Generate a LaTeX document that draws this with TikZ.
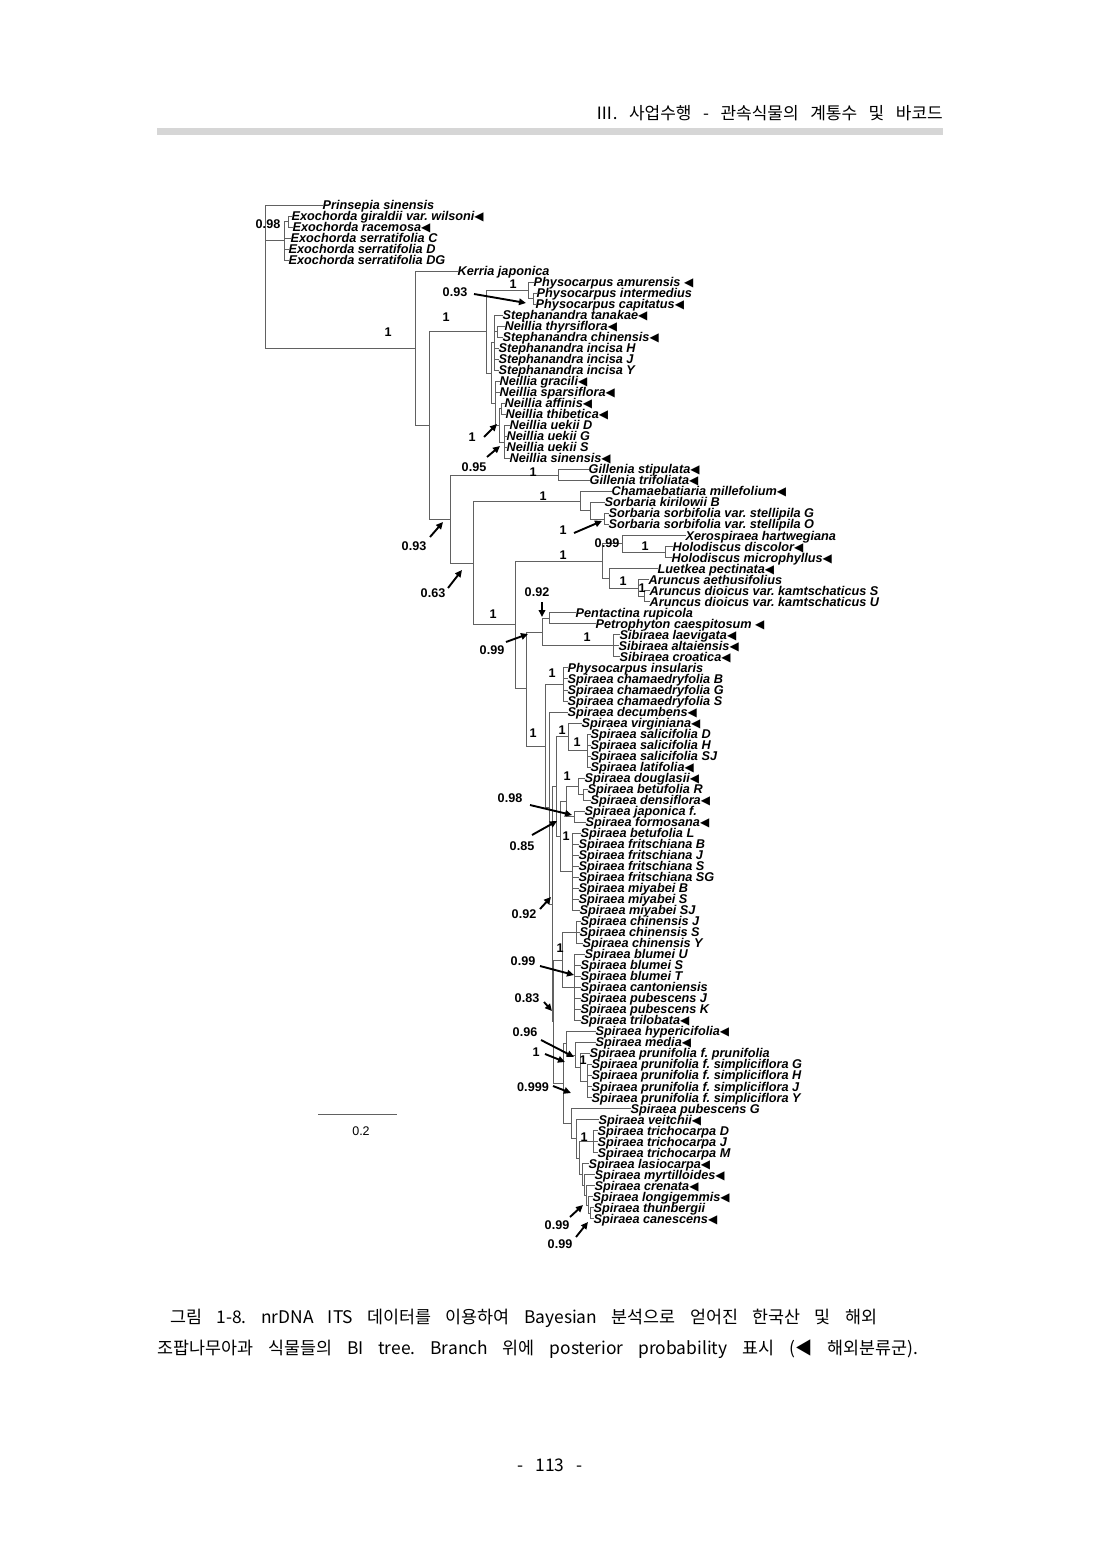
\documentclass[tikz,border=0pt]{standalone}
\usepackage{fontspec}
\setmainfont{Liberation Sans}
\newfontfamily\kr[WordSpace=2.2]{Noto Sans CJK KR}
\newfontfamily\dvs{DejaVu Sans}
\usetikzlibrary{arrows.meta}
\frenchspacing
\def\yy#1{205+11.02*#1}
\newcommand\tri{{\dvs\upshape\mdseries\fontsize{12}{12}\selectfont ◀}}
\newcommand\lf[4]{\node[leaf] (l#1) at (#2,\yy{#1}) {#3}; \draw[br] (#4) |- (l#1.west);}
\newcommand\cl[4]{\coordinate (#1) at (#2,\yy{#3}); \draw[br] (#4) |- (#1);}
\newcommand\pp[4]{\node[sup] (#1) at (#2,#3) {#4};}
\newcommand\aw[5]{\coordinate (#1s) at (#2,#3); \coordinate (#1e) at (#4,#5); \draw[arr] (#1s) -- (#1e);}
\begin{document}
\begin{tikzpicture}[x=1pt,y=-1pt,
  leaf/.style={anchor=west,inner sep=0pt,xshift=1.5pt,text height=8.8pt,text depth=0pt,
    font=\fontsize{12.7}{13}\selectfont\bfseries\itshape},
  br/.style={line width=0.75pt,draw=black!62},
  sup/.style={inner sep=0pt,text height=8.8pt,text depth=0pt,font=\fontsize{12.6}{13}\selectfont\bfseries},
  arr/.style={line width=1.9pt,-{Triangle[length=7pt,width=6.5pt]}},
  kr/.style={inner sep=0pt,font=\kr\fontsize{17.4}{19}\selectfont}]
\fill[white] (0,0) rectangle (1100,1554);
\useasboundingbox (0,0) rectangle (1100,1554);
% header
\node[kr,anchor=east,font=\kr\fontsize{17}{19}\selectfont] (hdr) at (943,113) {\makebox[347pt][s]{Ⅲ. 사업수행 - 관속식물의 계통수 및 바코드}};
\fill[black!16] (157,128) rectangle (943,135);
% tree internal nodes
\coordinate (root) at (265,\yy{6.5});
\cl{Ex}{284}{3.25}{root}
\cl{GR}{288}{1.5}{Ex}
\cl{A}{415}{13}{root}
\cl{B}{429}{20}{A}
\cl{C}{486}{11.5}{B}
\cl{Ph}{528}{7.75}{C}
\cl{IC}{533}{8.5}{Ph}
\cl{SN}{491}{15.25}{C}
\cl{SN1}{494}{12.5}{SN}
\cl{TC2}{497}{11.5}{SN1}
\cl{SN2}{495}{18}{SN}
\cl{NB}{499}{20}{SN2}
\cl{NA1}{501}{18.5}{NB}
\cl{NU}{504}{21.5}{NB}
\cl{D}{450}{28.5}{B}
\cl{Gil}{558}{24.5}{D}
\cl{E}{473}{32.5}{D}
\cl{CS}{580}{26.875}{E}
\cl{SO}{590}{27.75}{CS}
\cl{GO}{604}{28.5}{SO}
\cl{F}{515}{38.1}{E}
\cl{G}{602}{32.31}{F}
\cl{XH}{622}{30.75}{G}
\cl{Ho}{665}{31.5}{XH}
\cl{LA}{609}{33.875}{G}
\cl{Ar}{638}{34.75}{LA}
\cl{AD}{644}{35.5}{Ar}
\cl{R}{526}{43.9}{F}
\cl{Q}{542}{38.75}{R}
\cl{P}{549}{37.5}{Q}
\cl{Sib}{613}{40}{Q}
\cl{S}{545}{49.1}{R}
\cl{PC}{563}{43.5}{S}
\cl{T}{549}{54.7}{S}
\cl{T2}{552}{63.45}{T}
\cl{T3}{556}{52.8}{T2}
\cl{V}{568}{48.25}{T3}
\cl{Sal}{587}{49.5}{V}
\cl{T3b}{560}{57.3}{T3}
\cl{DGJF}{566}{54.125}{T3b}
\cl{DG}{578}{52.75}{DGJF}
\cl{BD}{583}{53.5}{DG}
\cl{JF}{574}{55.5}{DGJF}
\cl{G1}{572}{60.5}{T3b}
\cl{T4}{553}{74.1}{T2}
\cl{CB}{562}{68.5}{T4}
\cl{G2}{576}{66}{CB}
\cl{G3}{574}{71}{CB}
\cl{HL}{563}{79.7}{T4}
\cl{H}{566}{76.06}{HL}
\cl{M}{575}{77.125}{H}
\cl{PP}{580}{78.25}{M}
\cl{PS}{587}{79.5}{PP}
\cl{L}{571}{83.37}{HL}
\cl{L2}{576}{84.74}{L}
\cl{L3}{579}{86.49}{L2}
\cl{Tr}{593}{85}{L3}
\cl{L4}{582}{87.97}{L3}
\cl{L5}{584}{88.94}{L4}
\cl{L6}{586}{89.875}{L5}
\cl{L7}{588}{90.75}{L6}
\cl{L8}{590}{91.5}{L7}
% leaves
\lf{0}{321}{Prinsepia sinensis}{root}
\lf{1}{290}{Exochorda giraldii var. wilsoni\tri}{GR}
\lf{2}{291}{Exochorda racemosa\tri}{GR}
\lf{3}{289}{Exochorda serratifolia C}{Ex}
\lf{4}{287}{Exochorda serratifolia D}{Ex}
\lf{5}{287}{Exochorda serratifolia DG}{Ex}
\lf{6}{456}{Kerria japonica}{A}
\lf{7}{532}{Physocarpus amurensis \tri}{Ph}
\lf{8}{535}{Physocarpus intermedius}{IC}
\lf{9}{534}{Physocarpus capitatus\tri}{IC}
\lf{10}{501}{Stephanandra tanakae\tri}{SN1}
\lf{11}{503}{Neillia thyrsiflora\tri}{TC2}
\lf{12}{501}{Stephanandra chinensis\tri}{TC2}
\lf{13}{497}{Stephanandra incisa H}{SN1}
\lf{14}{497}{Stephanandra incisa J}{SN1}
\lf{15}{497}{Stephanandra incisa Y}{SN1}
\lf{16}{498}{Neillia gracili\tri}{SN2}
\lf{17}{498}{Neillia sparsiflora\tri}{SN2}
\lf{18}{503}{Neillia affinis\tri}{NA1}
\lf{19}{504}{Neillia thibetica\tri}{NA1}
\lf{20}{508}{Neillia uekii D}{NU}
\lf{21}{505}{Neillia uekii G}{NU}
\lf{22}{505}{Neillia uekii S}{NU}
\lf{23}{508}{Neillia sinensis\tri}{NU}
\lf{24}{587}{Gillenia stipulata\tri}{Gil}
\lf{25}{588}{Gillenia trifoliata\tri}{Gil}
\lf{26}{610}{Chamaebatiaria millefolium\tri}{CS}
\lf{27}{603}{Sorbaria kirilowii B}{SO}
\lf{28}{607}{Sorbaria sorbifolia var. stellipila G}{GO}
\lf{29}{607}{Sorbaria sorbifolia var. stellipila O}{GO}
\lf{30}{684}{Xerospiraea hartwegiana}{XH}
\lf{31}{671}{Holodiscus discolor\tri}{Ho}
\lf{32}{670}{Holodiscus microphyllus\tri}{Ho}
\lf{33}{656}{Luetkea pectinata\tri}{LA}
\lf{34}{647}{Aruncus aethusifolius}{Ar}
\lf{35}{648}{Aruncus dioicus var. kamtschaticus S}{AD}
\lf{36}{648}{Aruncus dioicus var. kamtschaticus U}{AD}
\lf{37}{574}{Pentactina rupicola}{P}
\lf{38}{594}{Petrophyton caespitosum \tri}{P}
\lf{39}{618}{Sibiraea laevigata\tri}{Sib}
\lf{40}{617}{Sibiraea altaiensis\tri}{Sib}
\lf{41}{618}{Sibiraea croatica\tri}{Sib}
\lf{42}{566}{Physocarpus insularis}{PC}
\lf{43}{566}{Spiraea chamaedryfolia B}{PC}
\lf{44}{566}{Spiraea chamaedryfolia G}{PC}
\lf{45}{566}{Spiraea chamaedryfolia S}{PC}
\lf{46}{566}{Spiraea decumbens\tri}{T}
\lf{47}{580}{Spiraea virginiana\tri}{V}
\lf{48}{589}{Spiraea salicifolia D}{Sal}
\lf{49}{589}{Spiraea salicifolia H}{Sal}
\lf{50}{589}{Spiraea salicifolia SJ}{Sal}
\lf{51}{589}{Spiraea latifolia\tri}{Sal}
\lf{52}{583}{Spiraea douglasii\tri}{DG}
\lf{53}{586}{Spiraea betufolia R}{BD}
\lf{54}{589}{Spiraea densiflora\tri}{BD}
\lf{55}{583}{Spiraea japonica f.}{JF}
\lf{56}{584}{Spiraea formosana\tri}{JF}
\lf{57}{579}{Spiraea betufolia L}{G1}
\lf{58}{577}{Spiraea fritschiana B}{G1}
\lf{59}{577}{Spiraea fritschiana J}{G1}
\lf{60}{577}{Spiraea fritschiana S}{G1}
\lf{61}{577}{Spiraea fritschiana SG}{G1}
\lf{62}{577}{Spiraea miyabei B}{G1}
\lf{63}{577}{Spiraea miyabei S}{G1}
\lf{64}{578}{Spiraea miyabei SJ}{G1}
\lf{65}{579}{Spiraea chinensis J}{G2}
\lf{66}{578}{Spiraea chinensis S}{G2}
\lf{67}{581}{Spiraea chinensis Y}{G2}
\lf{68}{583}{Spiraea blumei U}{G3}
\lf{69}{579}{Spiraea blumei S}{G3}
\lf{70}{579}{Spiraea blumei T}{G3}
\lf{71}{579}{Spiraea cantoniensis}{G3}
\lf{72}{579}{Spiraea pubescens J}{G3}
\lf{73}{579}{Spiraea pubescens K}{G3}
\lf{74}{579}{Spiraea trilobata\tri}{G3}
\lf{75}{594}{Spiraea hypericifolia\tri}{H}
\lf{76}{594}{Spiraea media\tri}{M}
\lf{77}{588}{Spiraea prunifolia f. prunifolia}{PP}
\lf{78}{590}{Spiraea prunifolia f. simpliciflora G}{PS}
\lf{79}{590}{Spiraea prunifolia f. simpliciflora H}{PS}
\lf{80}{590}{Spiraea prunifolia f. simpliciflora J}{PS}
\lf{81}{590}{Spiraea prunifolia f. simpliciflora Y}{PS}
\lf{82}{629}{Spiraea pubescens G}{L}
\lf{83}{597}{Spiraea veitchii\tri}{L2}
\lf{84}{596}{Spiraea trichocarpa D}{Tr}
\lf{85}{596}{Spiraea trichocarpa J}{Tr}
\lf{86}{596}{Spiraea trichocarpa M}{Tr}
\lf{87}{587}{Spiraea lasiocarpa\tri}{L4}
\lf{88}{593}{Spiraea myrtilloides\tri}{L5}
\lf{89}{593}{Spiraea crenata\tri}{L6}
\lf{90}{591}{Spiraea longigemmis\tri}{L7}
\lf{91}{592}{Spiraea thunbergii}{L8}
\lf{92}{592}{Spiraea canescens\tri}{L8}
% support values
\pp{s1}{268}{224}{0.98}
\pp{s2}{388}{332}{1}
\pp{s3}{446}{317}{1}
\pp{s4}{513}{284}{1}
\pp{s5}{533}{472}{1}
\pp{s6}{543}{496}{1}
\pp{s7}{607}{543}{0.99}
\pp{s8}{645}{546}{1}
\pp{s9}{563}{555}{1}
\pp{s10}{623}{581}{1}
\pp{s11}{642}{588}{1}
\pp{s12}{493}{614}{1}
\pp{s13}{587}{637}{1}
\pp{s14}{552}{673}{1}
\pp{s15}{533}{733}{1}
\pp{s16}{562}{730}{1}
\pp{s17}{577}{742}{1}
\pp{s18}{567}{776}{1}
\pp{s19}{566}{836}{1}
\pp{s20}{560}{948}{1}
\pp{s21}{583}{1060}{1}
\pp{s22}{584}{1137}{1}
% support values with arrows
\pp{t1}{455}{292}{0.93}   \aw{a1}{474}{294}{526}{303}
\pp{t2}{472}{437}{1}      \aw{a2}{484}{437}{497}{424}
\pp{t3}{474}{467}{0.95}   \aw{a3}{487}{457}{500}{446}
\pp{t4}{414}{546}{0.93}   \aw{a4}{430}{537}{443}{522}
\pp{t5}{563}{530}{1}      \aw{a5}{574}{533}{602}{521}
\pp{t6}{433}{593}{0.63}   \aw{a6}{448}{588}{462}{570}
\pp{t7}{537}{592}{0.92}   \aw{a7}{542}{602}{542}{617}
\pp{t8}{492}{650}{0.99}   \aw{a8}{506}{642}{528}{634}
\pp{t9}{510}{798}{0.98}   \aw{a9}{530}{805}{572}{815}
\pp{t10}{522}{846}{0.85}  \aw{a10}{532}{835}{557}{821}
\pp{t11}{524}{914}{0.92}  \aw{a11}{540}{909}{551}{897}
\pp{t12}{523}{961}{0.99}  \aw{a12}{540}{966}{574}{975}
\pp{t13}{527}{998}{0.83}  \aw{a13}{544}{1002}{552}{1011}
\pp{t14}{525}{1032}{0.96} \aw{a14}{541}{1040}{574}{1057}
\pp{t15}{536}{1052}{1}    \aw{a15}{545}{1054}{565}{1062}
\pp{t16}{533}{1087}{0.999} \aw{a16}{553}{1086}{571}{1093}
\pp{t17}{557}{1225}{0.99} \aw{a17}{570}{1217}{583}{1205}
\pp{t18}{560}{1244}{0.99} \aw{a18}{576}{1237}{588}{1222}
% scale bar
\coordinate (sb1) at (318,1114);
\coordinate (sb2) at (397,1114);
\draw[br] (sb1) -- (sb2);
\node[inner sep=0pt,font=\fontsize{12.5}{13}\selectfont] (sbl) at (361,1131) {0.2};
% caption
\node[kr,anchor=west] (cap1) at (170,1318) {\makebox[707pt][s]{그림 1-8. nrDNA ITS 데이터를 이용하여 Bayesian 분석으로 얻어진 한국산 및 해외}};
\node[kr,anchor=west] (cap2) at (157,1349) {\makebox[761pt][s]{조팝나무아과 식물들의 BI tree. Branch 위에 posterior probability 표시 (◀ 해외분류군).}};
\node[kr] (pg) at (550,1465) {\makebox[65pt][s]{- 113 -}};
\end{tikzpicture}
\end{document}
